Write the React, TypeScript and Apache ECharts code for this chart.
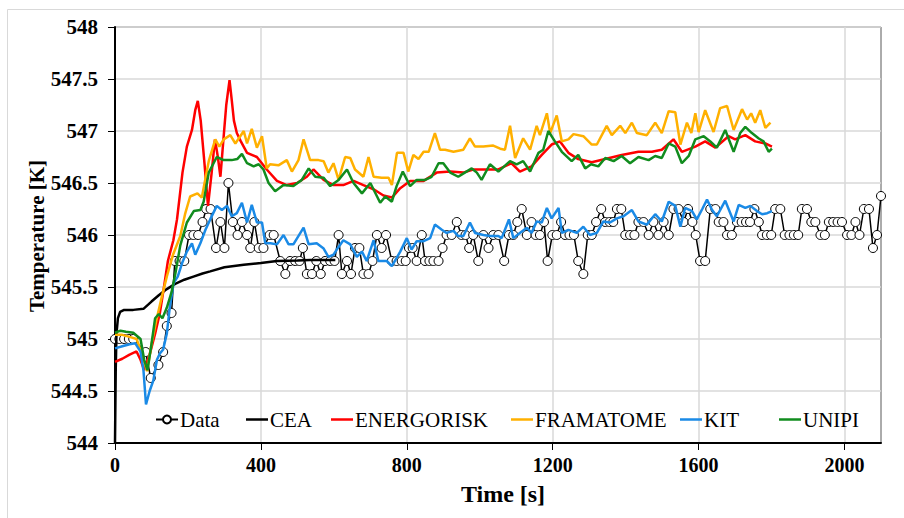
import React, { useEffect, useRef } from "react";
import * as echarts from "echarts";

// Time [s], Temperature [K]
const dataPoints: [number, number][] = [
  [0,545],[12,545],[25,545],[38,545],[50,545],[84,544.875],[98,544.625],[119,544.75],[132,544.875],[142,545.125],
  [155,545.25],[164,545.75],[177,545.75],[190,545.75],[203,546],[215,546],[228,546],[240,546.125],[250,546.25],[262,546.25],
  [277,545.875],[289,546.125],[300,545.875],[311,546.5],[323,546.125],[336,546],[348,546.125],[362,546],[371,545.875],[382,546.125],
  [394,545.875],[407,545.875],[424,546],[435,546],[453,545.75],[467,545.625],[480,545.75],[494,545.75],[506,545.75],[515,545.875],
  [526,545.625],[540,545.625],[552,545.75],[564,545.625],[576,545.75],[590,545.75],[602,545.75],[613,546],[622,545.625],[636,545.75],
  [647,545.625],[658,545.875],[670,545.875],[681,545.625],[695,545.625],[706,545.75],[718,546],[731,545.875],[743,546],[759,545.75],
  [772,545.75],[786,545.75],[797,545.75],[806,545.875],[816,545.875],[827,545.75],[841,546],[850,545.75],[862,545.75],[873,545.75],
  [887,545.75],[898,545.875],[909,546],[923,546],[937,546.125],[950,546],[961,546],[971,545.875],[982,546],[996,545.75],
  [1010,546],[1024,545.875],[1037,546],[1051,546],[1067,545.75],[1080,546],[1092,546],[1103,546.125],[1115,546.25],[1129,546],
  [1142,546.125],[1153,546],[1165,546],[1176,546.125],[1186,545.75],[1199,546],[1211,546],[1223,546.125],[1234,546],[1246,546],
  [1258,546],[1270,545.75],[1284,545.625],[1296,546],[1307,546],[1319,546.125],[1333,546.25],[1344,546.125],[1356,546.125],[1366,546.125],
  [1376,546.25],[1388,546.25],[1399,546],[1412,546],[1424,546],[1435,546.125],[1449,546.125],[1463,546],[1476,546.125],[1490,546],
  [1504,546.125],[1518,546],[1531,546.25],[1545,546.25],[1559,546.125],[1571,546.25],[1583,546.125],[1592,546],[1604,545.75],[1618,545.75],
  [1632,546.25],[1646,546.25],[1655,546.125],[1668,546.125],[1678,546],[1691,546],[1705,546.125],[1718,546.125],[1730,546.125],[1741,546.125],
  [1753,546.25],[1765,546.125],[1774,546],[1787,546],[1799,546],[1810,546.25],[1824,546.25],[1836,546],[1849,546],[1861,546],
  [1873,546],[1883,546.25],[1897,546.25],[1909,546.125],[1920,546.125],[1934,546],[1946,546],[1957,546.125],[1969,546.125],[1981,546.125],
  [1993,546.125],[2007,546],[2019,546],[2030,546.125],[2041,546],[2053,546.25],[2067,546.25],[2078,545.875],[2089,546],[2100,546.375]
];

const ceaPoints: [number, number][] = [
  [0,544],[2,544.7],[4,545.05],[8,545.2],[14,545.26],[25,545.28],[50,545.28],[78,545.29],[100,545.36],[120,545.42],
  [142,545.48],[165,545.53],[190,545.57],[215,545.6],[240,545.63],[261,545.65],[300,545.69],[353,545.715],[400,545.73],[444,545.75],
  [500,545.755],[535,545.76],[604,545.76]
];

const energoriskPoints: [number, number][] = [
  [0,544.78],[20,544.81],[40,544.85],[59,544.88],[70,544.8],[80,544.7],[95,544.85],[110,545.05],[123,545.25],[133,545.47],
  [145,545.75],[160,545.95],[170,546.15],[185,546.6],[197,546.85],[211,547.01],[220,547.2],[227,547.29],[235,547.1],[245,546.7],
  [255,546.28],[265,546.6],[274,546.92],[282,546.75],[289,546.56],[298,546.95],[305,547.25],[314,547.49],[320,547.3],[326,547.1],
  [334,546.98],[345,546.9],[362,546.79],[389,546.75],[416,546.63],[444,546.52],[471,546.48],[499,546.5],[526,546.56],[544,546.63],
  [572,546.53],[599,546.48],[626,546.48],[654,546.52],[681,546.48],[709,546.44],[736,546.38],[759,546.36],[782,546.45],[809,546.52],
  [846,546.52],[882,546.6],[919,546.61],[955,546.6],[982,546.63],[1019,546.63],[1051,546.63],[1087,546.69],[1110,546.61],[1142,546.66],
  [1170,546.77],[1197,546.87],[1220,546.9],[1243,546.79],[1270,546.73],[1307,546.7],[1344,546.73],[1389,546.77],[1435,546.8],[1472,546.8],
  [1499,546.82],[1531,546.92],[1554,546.8],[1591,546.85],[1618,546.9],[1646,546.84],[1682,546.95],[1700,546.92],[1728,546.96],[1755,546.9],
  [1783,546.88],[1801,546.85]
];

const framatomePoints: [number, number][] = [
  [0,545.04],[20,545.04],[40,545.02],[59,545.0],[70,544.9],[80,544.78],[88,544.69],[100,544.95],[114,545.19],[128,545.4],
  [142,545.6],[158,545.8],[179,545.99],[192,546.2],[206,546.37],[226,546.4],[238,546.36],[257,546.71],[275,546.92],[286,546.85],
  [298,546.92],[316,546.96],[330,546.88],[353,547.0],[362,546.88],[375,547.02],[389,546.84],[403,546.95],[416,546.64],[425,546.68],
  [448,546.67],[471,546.72],[485,546.61],[503,546.72],[517,546.92],[535,546.72],[558,546.72],[572,546.71],[585,546.6],[599,546.69],
  [613,546.53],[631,546.75],[645,546.74],[658,546.63],[681,546.56],[695,546.75],[709,546.56],[731,546.55],[750,546.55],[759,546.48],
  [773,546.79],[791,546.79],[804,546.61],[818,546.77],[832,546.73],[846,546.8],[860,546.8],[877,546.98],[891,546.82],[905,546.82],
  [928,546.8],[955,546.82],[973,546.93],[987,546.85],[1010,546.85],[1037,546.86],[1056,546.83],[1069,546.82],[1083,547.05],[1097,546.74],
  [1119,546.93],[1138,546.82],[1156,547.05],[1165,546.96],[1184,547.17],[1193,546.98],[1211,547.15],[1225,546.9],[1243,546.92],[1257,546.97],
  [1284,546.95],[1307,546.87],[1321,546.87],[1348,547.05],[1362,546.96],[1385,547.05],[1399,546.98],[1417,547.08],[1431,546.98],[1458,546.96],
  [1481,547.08],[1499,546.98],[1518,547.19],[1536,547.18],[1550,546.87],[1568,547.08],[1580,546.98],[1591,547.17],[1600,546.99],[1618,547.2],
  [1641,546.99],[1659,547.22],[1678,547.24],[1696,547.01],[1719,547.21],[1733,547.11],[1744,547.17],[1755,547.08],[1769,547.2],[1783,547.03],
  [1797,547.08]
];

const kitPoints: [number, number][] = [
  [0,544.91],[20,544.93],[40,544.95],[55,544.96],[70,544.88],[78,544.7],[85,544.37],[95,544.5],[105,544.6],[115,544.8],
  [123,544.86],[132,544.9],[142,545.05],[150,545.3],[161,545.54],[172,545.6],[184,545.73],[197,545.84],[211,545.92],[220,545.81],
  [234,545.92],[248,546.05],[261,546.15],[279,546.28],[293,546.24],[307,546.28],[320,546.18],[334,546.21],[348,546.31],[362,546.12],
  [375,546.29],[389,546.12],[403,546.12],[412,545.92],[426,545.92],[444,545.91],[462,546.0],[476,545.91],[489,545.91],[517,546.07],
  [531,545.91],[553,545.92],[572,545.87],[585,545.79],[599,545.81],[608,545.86],[626,545.95],[645,545.91],[663,545.79],[677,545.84],
  [690,545.75],[709,545.95],[722,545.75],[745,545.75],[759,545.7],[782,545.84],[800,545.97],[813,545.86],[827,545.94],[846,545.94],
  [864,545.97],[877,546.1],[896,546.05],[909,546.02],[928,546.04],[941,545.99],[955,545.99],[973,546.12],[987,546.02],[1010,546.0],
  [1028,545.99],[1051,545.99],[1060,545.97],[1080,546.15],[1092,545.97],[1110,546.02],[1129,546.07],[1142,546.02],[1156,546.13],[1170,546.12],
  [1184,546.26],[1197,546.16],[1216,546.26],[1225,546.02],[1243,546.05],[1266,546.02],[1284,546.08],[1302,546.0],[1321,546.02],[1339,546.13],
  [1357,546.12],[1376,546.16],[1394,546.18],[1417,546.24],[1435,546.13],[1458,546.1],[1481,546.2],[1499,546.13],[1518,546.32],[1536,546.28],
  [1550,546.08],[1563,546.26],[1582,546.23],[1595,546.15],[1610,546.25],[1623,546.34],[1637,546.24],[1650,546.18],[1673,546.33],[1696,546.13],
  [1710,546.29],[1728,546.26],[1742,546.28],[1760,546.23],[1774,546.2],[1788,546.21],[1801,546.23]
];

const unipiPoints: [number, number][] = [
  [0,545.06],[15,545.08],[30,545.07],[50,545.06],[70,545.0],[80,544.8],[89,544.7],[100,544.95],[110,545.2],[120,545.24],
  [130,545.2],[142,545.3],[155,545.45],[165,545.62],[179,545.9],[197,546.12],[216,546.23],[234,546.24],[243,546.32],[257,546.6],
  [279,546.75],[298,546.72],[320,546.72],[335,546.73],[348,546.78],[362,546.69],[380,546.66],[394,546.68],[407,546.63],[421,546.5],
  [439,546.42],[462,546.48],[489,546.47],[512,546.53],[531,546.64],[549,546.56],[572,546.55],[590,546.47],[613,546.53],[636,546.63],
  [654,546.5],[677,546.4],[700,546.5],[727,546.31],[741,546.37],[759,546.32],[772,546.47],[789,546.61],[809,546.47],[827,546.53],
  [850,546.53],[868,546.56],[887,546.69],[900,546.69],[919,546.6],[941,546.56],[959,546.6],[978,546.64],[992,546.6],[1005,546.53],
  [1028,546.68],[1051,546.61],[1083,546.71],[1101,546.68],[1119,546.71],[1138,546.61],[1161,546.79],[1174,546.82],[1188,547.0],[1206,546.9],
  [1225,546.8],[1252,546.71],[1270,546.77],[1289,546.64],[1305,546.68],[1325,546.66],[1344,546.74],[1367,546.71],[1389,546.76],[1412,546.69],
  [1435,546.75],[1463,546.72],[1481,546.76],[1499,546.74],[1518,546.88],[1536,546.85],[1554,546.69],[1573,546.76],[1591,546.92],[1614,546.95],
  [1632,546.9],[1650,546.84],[1673,547.01],[1696,546.8],[1714,546.98],[1728,547.04],[1746,546.98],[1764,546.93],[1778,546.9],[1792,546.8],
  [1801,546.83]
];

const xTickValues = [0, 400, 800, 1200, 1600, 2000];
const seriesNames = ["Data", "CEA", "ENERGORISK", "FRAMATOME", "KIT", "UNIPI"];
const seriesColors = ["#000000", "#000000", "#ff0000", "#ffb000", "#1a8ae6", "#118c1e"];
const legendLefts = [155, 246, 331, 511, 680, 779];
const yTitle = "Temperature [K]";

const FONT = '"Liberation Serif", "Times New Roman", serif';

export default function App() {
  const ref = useRef<HTMLDivElement>(null);
  useEffect(() => {
    if (!ref.current) return;
    const chart = echarts.init(ref.current, null, { renderer: "svg" });
    const lineSeries = [ceaPoints, energoriskPoints, framatomePoints, kitPoints, unipiPoints].map((pts, i) => ({
      name: seriesNames[i + 1],
      type: "line",
      data: pts,
      symbol: "none",
      showSymbol: false,
      lineStyle: { color: seriesColors[i + 1], width: 2.5 },
      itemStyle: { color: seriesColors[i + 1] },
      z: 3 + i,
    }));
    const legendTextStyle = { fontFamily: FONT, fontSize: 21, color: "#000", padding: [0, 0, 0, -3] };
    chart.setOption({
      animation: false,
      backgroundColor: "#ffffff",
      graphic: [
        {
          type: "rect",
          shape: { x: 7.5, y: 9.5, width: 1000, height: 1000 },
          style: { fill: "none", stroke: "#d9d9d9", lineWidth: 1 },
          silent: true,
        },
        {
          type: "text",
          x: 37,
          y: 236,
          rotation: Math.PI / 2,
          silent: true,
          style: {
            text: yTitle,
            fontFamily: FONT,
            fontWeight: "bold",
            fontSize: 21,
            fill: "#000",
            align: "center",
            verticalAlign: "middle",
          },
        },
      ],
      grid: {
        left: 115,
        right: 23,
        top: 27,
        bottom: 75,
        show: true,
        borderColor: "#595959",
        borderWidth: 1,
        backgroundColor: "transparent",
      },
      legend: seriesNames.map((n, i) =>
        i === 0
          ? {
              data: [n],
              left: legendLefts[i],
              top: 409,
              itemWidth: 22,
              itemHeight: 10,
              selectedMode: false,
              padding: 0,
              textStyle: legendTextStyle,
            }
          : {
              data: [n],
              icon: "rect",
              left: legendLefts[i],
              top: 409,
              itemWidth: 22,
              itemHeight: 2.5,
              selectedMode: false,
              padding: 0,
              textStyle: legendTextStyle,
            }
      ),
      xAxis: {
        type: "value",
        min: 0,
        max: 2100,
        interval: 400,
        name: "Time [s]",
        nameLocation: "middle",
        nameGap: 39,
        nameTextStyle: { fontFamily: FONT, fontWeight: "bold", fontSize: 24, color: "#000", padding: [0, 0, 0, 10] },
        axisLine: { show: true, onZero: false, lineStyle: { color: "#000", width: 2 } },
        axisTick: { show: true, length: 7, customValues: xTickValues, lineStyle: { color: "#000", width: 1 } },
        axisLabel: {
          customValues: xTickValues,
          formatter: (v: number) => String(v),
          margin: 12,
          fontFamily: FONT,
          fontWeight: "bold",
          fontSize: 20,
          color: "#000",
        },
        splitLine: { show: true, lineStyle: { color: "#d9d9d9", width: 1.5 } },
      },
      yAxis: {
        type: "value",
        min: 544,
        max: 548,
        interval: 0.5,
        axisLine: { show: true, onZero: false, lineStyle: { color: "#000", width: 2 } },
        axisTick: { show: true, length: 7, lineStyle: { color: "#000", width: 1 } },
        axisLabel: {
          margin: 17,
          formatter: (v: number) => String(v),
          fontFamily: FONT,
          fontWeight: "bold",
          fontSize: 21,
          color: "#000",
        },
        splitLine: { show: true, lineStyle: { color: "#d9d9d9", width: 1.5 } },
      },
      series: [
        {
          name: "Data",
          type: "line",
          data: dataPoints,
          symbol: "circle",
          symbolSize: 9,
          showSymbol: true,
          lineStyle: { color: "#000", width: 1.5 },
          itemStyle: { color: "#fff", borderColor: "#000", borderWidth: 1 },
          z: 2,
        },
        ...lineSeries,
      ],
    });
    return () => chart.dispose();
  }, []);
  return (
    <div
      ref={ref}
      style={{ position: "fixed", left: 0, top: 0, width: 904, height: 518 }}
    />
  );
}
